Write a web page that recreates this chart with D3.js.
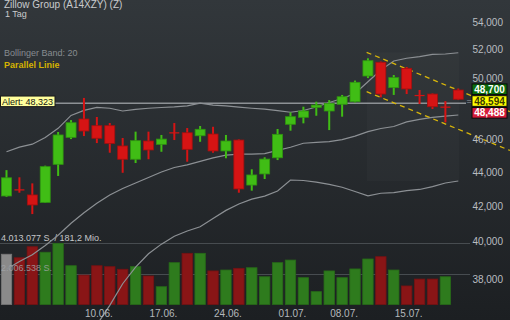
<!DOCTYPE html>
<html>
<head>
<meta charset="utf-8">
<script src="https://cdn.jsdelivr.net/npm/d3@7/dist/d3.min.js"></script>
<style>
    html, body { margin: 0; padding: 0; background: #25292d; }
    svg { display: block; font-family: "Liberation Sans", Arial, sans-serif; }
</style>
</head>
<body>
<div id="chart"></div>
<script>
// Trading days (dd.mm.)
const dates = [
    "30.05.", "31.05.", "03.06.", "04.06.", "05.06.", "06.06.", "07.06.",
    "10.06.", "11.06.", "12.06.", "13.06.", "14.06.",
    "17.06.", "18.06.", "19.06.", "20.06.", "21.06.",
    "24.06.", "25.06.", "26.06.", "27.06.", "28.06.",
    "01.07.", "02.07.", "03.07.", "05.07.",
    "08.07.", "09.07.", "10.07.", "11.07.", "12.07.",
    "15.07.", "16.07.", "17.07.", "18.07.", "19.07."
];

const opens  = [42580, 42970, 42640, 42210, 44460, 46130, 47300, 46870, 46870, 45590, 44770, 45900,
                45690, 46450, 46420, 46230, 46340, 45280, 45960, 43220, 43880, 44860, 46960, 47410,
                48060, 47820, 48260, 48430, 50160, 51110, 49370, 50690, 48880, 48940, 48110, 49210];
const highs  = [44110, 43680, 43320, 44380, 46470, 47230, 48680, 47430, 47040, 46090, 46490, 46490,
                46280, 47040, 46720, 46850, 46800, 46280, 46000, 44160, 44890, 46660, 47730, 48100,
                48430, 48540, 48880, 49850, 51390, 51160, 50230, 50780, 49210, 48980, 48470, 49310];
const lows   = [42530, 42770, 41540, 42190, 43760, 46020, 46210, 45770, 45170, 43950, 44540, 44770,
                45230, 45960, 44620, 45850, 45170, 44830, 42770, 42890, 43580, 44720, 46550, 47020,
                47510, 46590, 47450, 48380, 50020, 48720, 48880, 48940, 48280, 47950, 47080, 48540];
const closes = [43650, 42960, 42060, 44320, 46280, 47060, 46530, 46070, 45750, 44770, 45920, 45340,
                46020, 46440, 45380, 46640, 45280, 45900, 42990, 43820, 44780, 46320, 47450, 47820,
                48210, 48320, 48760, 49730, 51220, 48940, 50050, 49280, 48860, 48100, 48090, 48594];

// Volume (shares) and its direction: u = up, d = down, n = neutral
const volumes = [3280000, 3050000, 3770000, 3410000, 3990000, 2530000, 1920000, 2530000, 2470000,
                 2300000, 2470000, 1860000, 1160000, 2730000, 3340000, 3340000, 2190000, 2250000,
                 2360000, 2400000, 1810000, 2730000, 2900000, 1750000, 840000, 2190000, 1750000,
                 2320000, 2970000, 3120000, 2250000, 1210000, 1660000, 1660000, 1810000, null];
const volDir = ["n", "d", "d", "u", "u", "u", "d", "d", "d", "d", "u", "d", "u", "u", "d", "u", "d", "u",
                "d", "u", "u", "u", "u", "u", "u", "u", "u", "u", "u", "d", "u", "d", "d", "d", "u", null];

// Bollinger Band (20)
const bbUpper  = [45230, 45520, 45700, 46120, 46700, 47530, 47860, 48060, 48000, 47820, 47930, 48000,
                  48050, 48090, 48150, 48330, 48210, 48150, 48070, 48000, 47940, 47850, 47740, 47850,
                  48080, 48380, 48640, 48980, 49770, 50570, 51200, 51390, 51500, 51660, 51690, 51780];
const bbMiddle = [38530, 38940, 39290, 39800, 40360, 41020, 41620, 42160, 42640, 43020, 43340, 43670,
                  44000, 44270, 44430, 44640, 44850, 45020, 45090, 45090, 45120, 45320, 45510, 45760,
                  45810, 45860, 45990, 46210, 46490, 46690, 46820, 47110, 47280, 47400, 47490, 47560];
const bbLower  = [31830, 32360, 32880, 33480, 34020, 34510, 35370, 35710, 36670, 37770, 38640, 39350,
                  39870, 40300, 40590, 40830, 41290, 41750, 42120, 42400, 42570, 42870, 43520, 43490,
                  43390, 43260, 43090, 42840, 42590, 42740, 42770, 42890, 42960, 43130, 43340, 43460];

// Parallel channel: [day index, price]
const channelTop    = [[27.9, 51810], [39, 47770]];
const channelBottom = [[27.9, 49100], [39, 45310]];

// 48,000 sits behind the quote boxes, so it is not listed
const priceTicks = [38000, 40000, 42000, 44000, 46000, 50000, 52000, 54000];
const volTicks = [2006538, 4013077];
const volTickLabels = ["2.006.538 S.", "4.013.077 S. / 181,2 Mio."];
const dateTicks = ["10.06.", "17.06.", "24.06.", "01.07.", "08.07.", "15.07."];

const alertLevel = 48323;
const bidPrice = 48700;
const lastPrice = 48594;
const askPrice = 48488;

const W = 510, H = 320;
const plotRight = 459;

const svg = d3.select("#chart").append("svg")
    .attr("width", W)
    .attr("height", H);

const defs = svg.append("defs");
const grad = defs.append("linearGradient")
    .attr("id", "bg").attr("x1", 0).attr("y1", 0).attr("x2", 0).attr("y2", 1);
grad.append("stop").attr("offset", "0%").attr("stop-color", "#32373b");
grad.append("stop").attr("offset", "100%").attr("stop-color", "#1c1f22");

svg.append("rect").attr("width", W).attr("height", H).attr("fill", "url(#bg)");

// Scales
const x = d3.scaleLinear().domain([0, dates.length - 1]).range([6.5, 458.3]);
const y = d3.scaleLog().domain([38000, 54000]).range([279.3, 22]);
const yv = d3.scaleLinear().domain([0, 4013077]).range([304.5, 243]);

const green = "#40bd15", greenEdge = "#2f9510";
const red = "#d61414", redEdge = "#a30f0f";

// Faint area behind the channel
svg.append("rect")
    .attr("x", x(channelTop[0][0]))
    .attr("y", y(channelTop[0][1]))
    .attr("width", plotRight - x(channelTop[0][0]))
    .attr("height", y(bbLower[35]) - y(channelTop[0][1]))
    .attr("fill", "#ffffff")
    .attr("opacity", 0.018);

// Volume gridlines
svg.selectAll(".vgrid")
    .data(volTicks)
    .enter().append("line")
    .attr("x1", 0).attr("x2", 470)
    .attr("y1", d => Math.round(yv(d)) + 0.5)
    .attr("y2", d => Math.round(yv(d)) + 0.5)
    .attr("stroke", "#474c50")
    .attr("stroke-width", 1);

// Volume bars
const volColor = { u: "#2e7b1d", d: "#891516", n: "#8a8a8a" };
const volEdge = { u: "#276a18", d: "#741213", n: "#777" };
svg.selectAll(".vol")
    .data(volumes.map((v, i) => ({ v, i, dir: volDir[i] })).filter(d => d.v != null))
    .enter().append("rect")
    .attr("x", d => x(d.i) - 5.2)
    .attr("width", 10.4)
    .attr("y", d => yv(d.v))
    .attr("height", d => yv(0) - yv(d.v))
    .attr("fill", d => volColor[d.dir])
    .attr("stroke", d => volEdge[d.dir])
    .attr("stroke-width", 0.8);

svg.selectAll(".vlabel")
    .data(volTicks)
    .enter().append("text")
    .attr("x", 1)
    .attr("y", d => yv(d) - 2.5)
    .attr("font-size", "9px")
    .attr("fill", (d, i) => i === 0 ? "#a4a7aa" : "#c4c6c8")
    .attr("opacity", (d, i) => i === 0 ? 0.8 : 1)
    .text((d, i) => volTickLabels[i]);

// Alert line
svg.append("line")
    .attr("x1", 0).attr("x2", 466)
    .attr("y1", y(alertLevel)).attr("y2", y(alertLevel))
    .attr("stroke", "#8d9195")
    .attr("stroke-width", 1.5);

// Bollinger lines
const bbLine = d3.line()
    .x((d, i) => x(i))
    .y(d => y(d));

[bbUpper, bbMiddle, bbLower].forEach(series => {
    svg.append("path")
        .datum(series)
        .attr("fill", "none")
        .attr("stroke", "#8c9094")
        .attr("stroke-width", 1.2)
        .attr("d", bbLine);
});

// Parallel channel lines
[channelTop, channelBottom].forEach(pts => {
    svg.append("path")
        .datum(pts)
        .attr("fill", "none")
        .attr("stroke", "#d9b60a")
        .attr("stroke-width", 1.3)
        .attr("stroke-dasharray", "5,4")
        .attr("d", d3.line().x(d => x(d[0])).y(d => y(d[1])));
});

// Candles
const candles = dates.map((d, i) => ({
    i, o: opens[i], h: highs[i], l: lows[i], c: closes[i]
}));

const cg = svg.append("g");
cg.selectAll(".wick")
    .data(candles)
    .enter().append("line")
    .attr("x1", d => x(d.i)).attr("x2", d => x(d.i))
    .attr("y1", d => y(d.h)).attr("y2", d => y(d.l))
    .attr("stroke", d => d.c >= d.o ? green : red)
    .attr("stroke-width", 2);

cg.selectAll(".body")
    .data(candles)
    .enter().append("rect")
    .attr("x", d => x(d.i) - 5)
    .attr("width", 10)
    .attr("y", d => y(Math.max(d.o, d.c)))
    .attr("height", d => Math.max(1.2, Math.abs(y(d.o) - y(d.c))))
    .attr("fill", d => d.c >= d.o ? green : red)
    .attr("stroke", d => Math.abs(y(d.o) - y(d.c)) < 2 ? "none" : (d.c >= d.o ? greenEdge : redEdge))
    .attr("stroke-width", 0.8);

// Price axis (right)
const yAxis = svg.append("g")
    .attr("transform", `translate(${W - 7},0)`)
    .call(d3.axisRight(y).tickValues(priceTicks).tickFormat(d3.format(",")).tickSize(0));
yAxis.select(".domain").remove();
yAxis.selectAll("text")
    .attr("x", 0)
    .attr("text-anchor", "end")
    .attr("fill", "#b9bdc1")
    .style("font-size", "10px")
    .style("font-family", "'Liberation Sans', Arial, sans-serif");

// Date axis
const xAxis = svg.append("g")
    .attr("transform", "translate(1.5,307)")
    .call(d3.axisBottom(x)
        .tickValues(dateTicks.map(t => dates.indexOf(t)))
        .tickFormat(i => dates[i])
        .tickSize(0));
xAxis.select(".domain").remove();
xAxis.selectAll("text")
    .attr("fill", "#b4b8bc")
    .style("font-size", "10px")
    .style("font-family", "'Liberation Sans', Arial, sans-serif");

// Quote boxes
const yLast = y(lastPrice) + 1.8;
const quotes = [
    { v: bidPrice, cy: yLast - 11.8, fill: "#0c6d0c", text: "#ffffff" },
    { v: lastPrice, cy: yLast, fill: "#ffff00", text: "#3a3a00" },
    { v: askPrice, cy: yLast + 11.8, fill: "#d51c3a", text: "#ffffff" }
];
svg.append("text")
    .attr("x", 466.5).attr("y", yLast + 3)
    .attr("font-size", "9px")
    .attr("fill", "#9a9ea2")
    .text("=");
quotes.forEach(q => {
    svg.append("rect")
        .attr("x", 472).attr("y", q.cy - 5.3)
        .attr("width", 35).attr("height", 10.6)
        .attr("fill", q.fill)
        .attr("stroke", "#0a0a0a")
        .attr("stroke-width", 1);
    svg.append("text")
        .attr("x", 489.5).attr("y", q.cy + 3.6)
        .attr("text-anchor", "middle")
        .attr("font-size", "10px")
        .attr("font-weight", "bold")
        .attr("fill", q.text)
        .text(d3.format(",")(q.v));
});

// Alert box
const ya = y(alertLevel) - 2;
svg.append("rect")
    .attr("x", 0.5).attr("y", ya - 5.3)
    .attr("width", 54.5).attr("height", 10.6)
    .attr("fill", "#ffff9c")
    .attr("stroke", "#1a1a1a")
    .attr("stroke-width", 1);
svg.append("text")
    .attr("x", 2).attr("y", ya + 3.3)
    .attr("font-size", "9px")
    .attr("fill", "#111")
    .text("Alert: " + d3.format(",")(alertLevel));

// Title and legend
svg.append("text").attr("x", 4).attr("y", 7.5)
    .attr("font-size", "10px").attr("fill", "#c9cbcd")
    .text("Zillow Group (A14XZY) (Z)");
svg.append("text").attr("x", 5).attr("y", 16.5)
    .attr("font-size", "9px").attr("fill", "#c9cbcd")
    .text("1 Tag");
svg.append("text").attr("x", 4).attr("y", 55.5)
    .attr("font-size", "9px").attr("fill", "#878c90")
    .text("Bollinger Band: 20");
svg.append("text").attr("x", 4).attr("y", 68)
    .attr("font-size", "9px").attr("font-weight", "bold").attr("fill", "#d5b400")
    .text("Parallel Linie");
</script>
</body>
</html>
